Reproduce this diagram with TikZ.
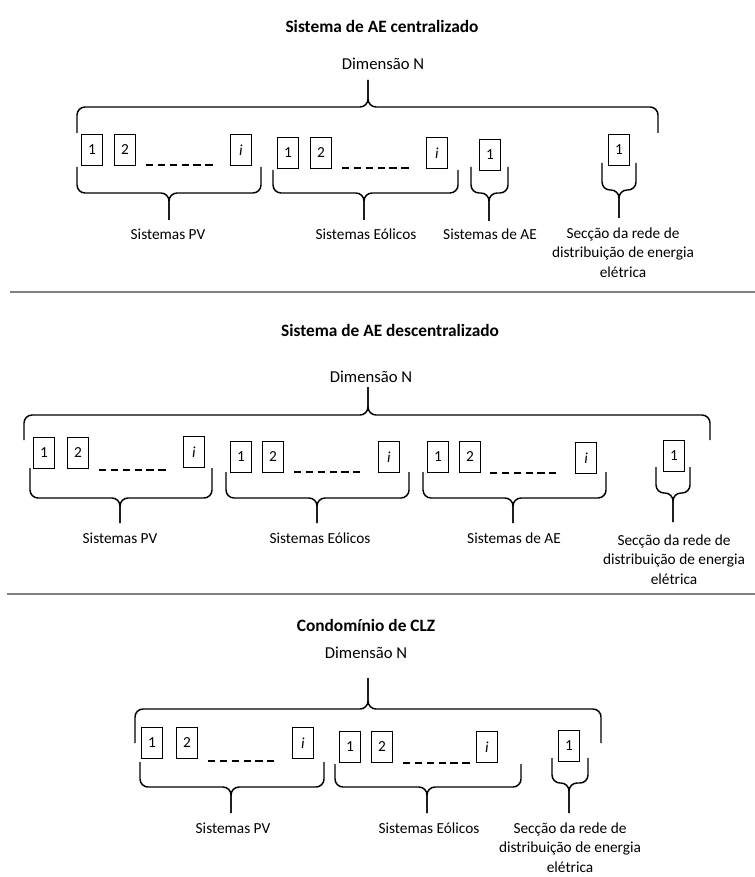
\documentclass[tikz,border=0pt]{standalone}
\usepackage{fontspec}
\setmainfont{Carlito}
\begin{document}
\begin{tikzpicture}[x=0.75pt,y=-0.75pt,
    every node/.style={font=\fontsize{11.5}{14.3}\selectfont},
    unit/.style={draw,line width=0.9pt,minimum width=15.5pt,minimum height=23pt,inner sep=0pt},
    brace/.style={line width=1.1pt,rounded corners=6pt},
    gap/.style={line width=1.1pt,dash pattern=on 5.4pt off 3.5pt},
    heading/.style={font=\fontsize{13}{15}\selectfont\bfseries},
    dim/.style={font=\fontsize{12.5}{15}\selectfont},
    caption/.style={anchor=base,inner sep=0pt},
    secc/.style={anchor=north,inner sep=0pt,align=center},
    rule/.style={line width=1.5pt,color=black!50}]
  \useasboundingbox (0,0) rectangle (755,877);

  % headings and the dimension over each top brace
  \node[heading] (tc) at (382,26) {Sistema de AE centralizado};
  \node[dim] (nc) at (383,64) {Dimensão N};
  \node[heading] (td) at (390,330) {Sistema de AE descentralizado};
  \node[dim] (nd) at (371,377) {Dimensão N};
  \node[heading] (tz) at (366,625) {Condomínio de CLZ};
  \node[dim] (nz) at (366,653) {Dimensão N};

  % the numbered units of each group
  \foreach \n/\x/\y/\t in {cp1/92/150/1, cp2/125/150/2, cpi/241/150/\textit{i},
      ce1/288/153/1, ce2/321/153/2, cei/437/153/\textit{i}, ca1/490/155/1, cs1/619/150/1,
      dp1/44/453/1, dp2/78/453/2, dpi/194/452/\textit{i},
      de1/241/457/1, de2/273/457/2, dei/389/457/\textit{i},
      da1/438/457/1, da2/470/457/2, dai/586/458/\textit{i}, ds1/674/456/1,
      zp1/152/743/1, zp2/187/743/2, zpi/303/743/\textit{i},
      ze1/350/747/1, ze2/382/747/2, zei/487/747/\textit{i}, zs1/569/746/1}
    \node[unit] (\n) at (\x,\y) {\t};

  \foreach \xa/\xb/\y in {146/213/165, 342/409/168, 99/166/470, 294/360/472,
      490/556/473, 208/274/761, 403/470/763}
    \draw[gap] (\xa,\y) -- (\xb,\y);

  % braces: two halves meeting at the tip
  \foreach \xa/\xb/\xm/\ya/\yh/\yt in {77/658/368/133/107/80,
      77/261/169/167/193/220, 273/458/364/170/193/220, 471/508/489/167/193/221, 602/636/619/163/190/218,
      24/710/368/440/415/387,
      30/212/120/468/498/523, 226/409/317/472/498/523, 423/606/513/472/498/523, 656/690/673/467/493/522,
      135/601/368/743/709/678,
      140/324/231/762/787/813, 335/521/427/764/787/813, 552/588/569/758/783/813} {
    \draw[brace] (\xa,\ya) -- (\xa,\yh) -- (\xm,\yh) -- (\xm,\yt);
    \draw[brace] (\xb,\ya) -- (\xb,\yh) -- (\xm,\yh) -- (\xm,\yt);
  }

  \node[caption] (cpv) at (168,239) {Sistemas PV};
  \node[caption] (ceo) at (366,239) {Sistemas Eólicos};
  \node[caption] (cae) at (490,239) {Sistemas de AE};
  \node[secc] (csr) at (623,228) {Secção da rede de\\distribuição de energia\\elétrica};

  \node[caption] (dpv) at (120,543) {Sistemas PV};
  \node[caption] (deo) at (320,543) {Sistemas Eólicos};
  \node[caption] (dae) at (514,543) {Sistemas de AE};
  \node[secc] (dsr) at (674,535) {Secção da rede de\\distribuição de energia\\elétrica};

  \node[caption] (zpv) at (233,833) {Sistemas PV};
  \node[caption] (zeo) at (429,833) {Sistemas Eólicos};
  \node[secc] (zsr) at (570,823) {Secção da rede de\\distribuição de energia\\elétrica};

  \draw[rule] (10,292) -- (755,292);
  \draw[rule] (7,594) -- (755,594);
\end{tikzpicture}
\end{document}
